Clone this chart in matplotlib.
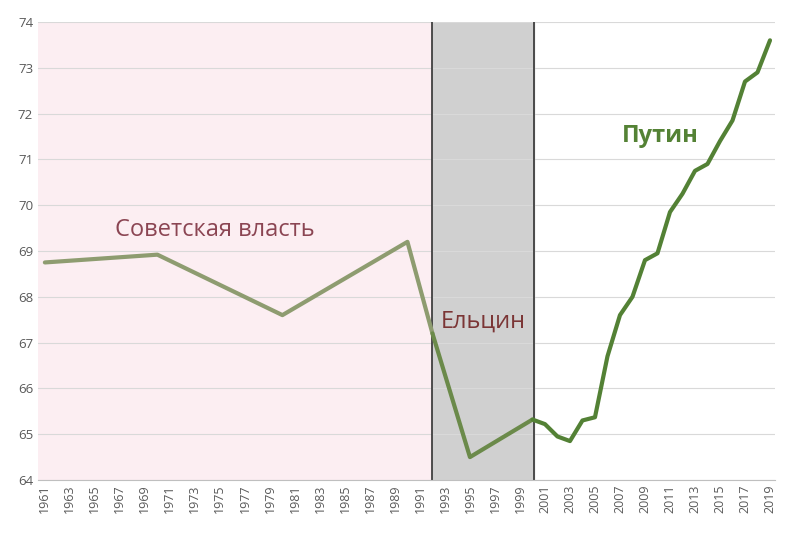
import matplotlib
matplotlib.use("Agg")
import matplotlib.pyplot as plt

years_sov = [1961, 1970, 1980, 1990, 1992]
vals_sov = [68.75, 68.92, 67.6, 69.2, 67.2]
years_yel = [1992, 1995, 2000]
vals_yel = [67.2, 64.5, 65.32]
years_put = [2000, 2001, 2002, 2003, 2004, 2005, 2006, 2007, 2008, 2009, 2010,
             2011, 2012, 2013, 2014, 2015, 2016, 2017, 2018, 2019]
vals_put = [65.32, 65.22, 64.95, 64.85, 65.3, 65.37, 66.7, 67.6, 68.0, 68.8, 68.95,
            69.85, 70.25, 70.75, 70.9, 71.4, 71.85, 72.7, 72.9, 73.6]
xticks = list(range(1961, 2020, 2))

plt.rcParams['font.family'] = ['Open Sans', 'DejaVu Sans']
fig = plt.figure(figsize=(7.95, 5.37), dpi=100)
ax = fig.add_axes([38/795, 1-480/537, (775-38)/795, (480-22)/537])
ax.set_xlim(1960.45, 2019.4)
ax.set_ylim(64, 74)
ax.axvspan(1960.45, 1992, color='#FCEEF2', zorder=0)
ax.axvspan(1992, 2000.1, color='#D0D0D0', zorder=0)
ax.axvline(1992, color='#333333', lw=1.2, zorder=1)
ax.axvline(2000.1, color='#333333', lw=1.2, zorder=1)
ax.set_yticks(range(64, 75))
ax.grid(axis='y', color='#D9D9D9', lw=0.8, zorder=0.5)
ax.set_axisbelow(True)
ax.plot(years_sov, vals_sov, color='#8E9C70', lw=3, zorder=3, solid_capstyle='round')
ax.plot(years_yel, vals_yel, color='#6B8A4A', lw=3, zorder=3, solid_capstyle='round')
ax.plot(years_put, vals_put, color='#538135', lw=3, zorder=3, solid_capstyle='round')
ax.set_xticks(xticks)
ax.set_xticklabels([str(y) for y in xticks], rotation=90, fontsize=9, color='#595959')
ax.tick_params(axis='y', labelsize=9.5, labelcolor='#595959', length=0)
ax.tick_params(axis='x', length=0)
for s in ['top', 'right', 'left']:
    ax.spines[s].set_visible(False)
ax.spines['bottom'].set_color('#BFBFBF')
ax.text(1974.6, 69.45, 'Советская власть', fontsize=17, color='#8B4553', ha='center', va='center')
ax.text(1996.1, 67.45, 'Ельцин', fontsize=17, color='#7B3535', ha='center', va='center')
ax.text(2010.2, 71.5, 'Путин', fontsize=17, color='#548235', fontweight='bold', ha='center', va='center')
fig.savefig('out.png', dpi=100)
